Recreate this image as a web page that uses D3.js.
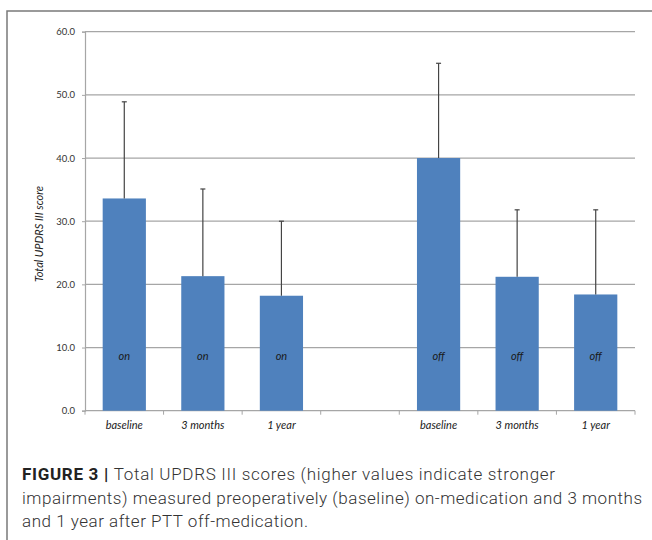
<!DOCTYPE html>
<html>
<head>
<meta charset="utf-8">
<script src="https://cdn.jsdelivr.net/npm/d3@7"></script>
<style>
    body { margin: 0; background: #fff; }
    svg { display: block; }
</style>
</head>
<body>
<script>
// data
const timepoints = ["baseline", "3 months", "1 year"];
const conditions = ["on", "off"];
const means = [33.6, 21.3, 18.2, 40.0, 21.2, 18.4];
const sds = [15.3, 13.8, 11.8, 15.0, 10.6, 13.4];
const y_ticks = [0, 10, 20, 30, 40, 50, 60];
const caption = [
    { bold: "FIGURE 3 | ", text: "Total UPDRS III scores (higher values indicate stronger", len: 533 },
    { bold: "", text: "impairments) measured preoperatively (baseline) on-medication and 3 months", len: 620 },
    { bold: "", text: "and 1 year after PTT off-medication.", len: 286 }
];

const wb = 652;
const hb = 540;
const margin = { top: 31.7, left: 85 };
const width = 550;
const height = 379;

// one slot per bar plus an empty slot between the two groups
const slots = [];
conditions.forEach((c, i) => {
    if (i > 0) slots.push("gap");
    timepoints.forEach(t => slots.push(`${c}|${t}`));
});
const bars = [];
conditions.forEach((c, i) => timepoints.forEach((t, j) => {
    const k = i * timepoints.length + j;
    bars.push({ key: `${c}|${t}`, cond: c, time: t, mean: means[k], sd: sds[k] });
}));

const svg = d3.select("body")
    .append("svg")
    .attr("width", wb)
    .attr("height", hb);

// frame (left and top edges, the rest runs off the page)
svg.append("path")
    .attr("d", `M7,${hb} V11 H${wb}`)
    .attr("fill", "none")
    .attr("stroke", "#7a7a7a")
    .attr("stroke-width", 1.5);

const g = svg.append("g")
    .attr("transform", `translate(${margin.left}, ${margin.top})`);

const xax = d3.scaleBand()
    .domain(slots)
    .range([0, width])
    .padding(0);
const yax = d3.scaleLinear()
    .domain([0, 60])
    .range([height, 0]);

// gridlines
g.append("g")
    .selectAll("line")
    .data(y_ticks.filter(d => d > 0))
    .join("line")
    .attr("x1", 0)
    .attr("x2", width)
    .attr("y1", d => yax(d))
    .attr("y2", d => yax(d))
    .attr("stroke", "#a6a6a6")
    .attr("stroke-width", 1.2);

// y axis
const yaxis = g.append("g")
    .call(d3.axisLeft(yax).tickValues(y_ticks).tickFormat(d3.format(".1f")).tickSize(3).tickPadding(7));
yaxis.select(".domain").attr("stroke", "#a6a6a6").attr("stroke-width", 1.2);
yaxis.selectAll(".tick line").attr("stroke", "#a6a6a6");
yaxis.selectAll(".tick text")
    .attr("fill", "#333")
    .style("font-family", "Lato, 'Open Sans', sans-serif")
    .style("font-size", "9.5px");

// x axis: ticks at slot boundaries, labels in slot centres
const xg = g.append("g")
    .attr("transform", `translate(0, ${height})`);
xg.append("line")
    .attr("x1", 0)
    .attr("x2", width)
    .attr("stroke", "#a6a6a6")
    .attr("stroke-width", 1.2);
xg.selectAll("line.tk")
    .data(slots.map(s => xax(s)).concat([width]))
    .join("line")
    .attr("class", "tk")
    .attr("x1", d => d)
    .attr("x2", d => d)
    .attr("y1", 0)
    .attr("y2", 4)
    .attr("stroke", "#a6a6a6");
xg.selectAll("text")
    .data(bars)
    .join("text")
    .attr("x", d => xax(d.key) + xax.bandwidth() / 2)
    .attr("y", 18)
    .attr("text-anchor", "middle")
    .attr("fill", "#222")
    .style("font-family", "Lato, 'Open Sans', sans-serif")
    .style("font-style", "italic")
    .style("font-size", "11px")
    .text(d => d.time);

// y axis title
svg.append("text")
    .attr("transform", "translate(43, 234) rotate(-90)")
    .attr("text-anchor", "middle")
    .attr("fill", "#222")
    .style("font-family", "Lato, 'Open Sans', sans-serif")
    .style("font-style", "italic")
    .style("font-size", "11px")
    .text("Total UPDRS III score");

// bars
const bw = xax.bandwidth() * 0.55;
const cx = d => xax(d.key) + xax.bandwidth() / 2;
g.append("g")
    .selectAll("rect")
    .data(bars)
    .join("rect")
    .attr("x", d => cx(d) - bw / 2)
    .attr("y", d => yax(d.mean))
    .attr("width", bw)
    .attr("height", d => yax(0) - yax(d.mean))
    .attr("fill", "#4f81bd");

// upper error bars
const eb = g.append("g")
    .attr("stroke", "#444")
    .attr("stroke-width", 1.2);
eb.selectAll("line.v")
    .data(bars)
    .join("line")
    .attr("class", "v")
    .attr("x1", cx)
    .attr("x2", cx)
    .attr("y1", d => yax(d.mean))
    .attr("y2", d => yax(d.mean + d.sd));
eb.selectAll("line.cap")
    .data(bars)
    .join("line")
    .attr("class", "cap")
    .attr("x1", d => cx(d) - 2.5)
    .attr("x2", d => cx(d) + 2.5)
    .attr("y1", d => yax(d.mean + d.sd))
    .attr("y2", d => yax(d.mean + d.sd));

// condition labels inside the bars
g.append("g")
    .selectAll("text")
    .data(bars)
    .join("text")
    .attr("x", cx)
    .attr("y", yax(8.1))
    .attr("text-anchor", "middle")
    .attr("fill", "#1a1a1a")
    .style("font-family", "Lato, 'Open Sans', sans-serif")
    .style("font-style", "italic")
    .style("font-size", "11px")
    .text(d => d.cond);

// caption, one text element per line stretched to the reference widths
caption.forEach((line, i) => {
    const t = svg.append("text")
        .attr("x", 22)
        .attr("y", 480 + i * 23.5)
        .attr("fill", "#333")
        .attr("textLength", line.len)
        .attr("lengthAdjust", "spacing")
        .style("font-family", "Roboto, 'Liberation Sans', sans-serif")
        .style("font-weight", 300)
        .style("font-size", "17px");
    if (line.bold)
        t.append("tspan")
            .style("font-weight", 700)
            .attr("fill", "#222")
            .text(line.bold);
    t.append("tspan").text(line.text);
});
</script>
</body>
</html>
